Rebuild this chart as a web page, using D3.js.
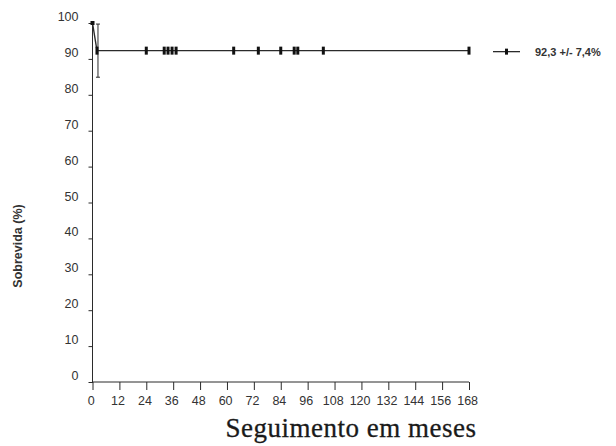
<!DOCTYPE html>
<html>
  <head>
    <meta charset="UTF-8" />
    <script src="https://cdn.jsdelivr.net/npm/d3@7"></script>
    <style>
      body { margin: 0; background: #fff; }
      svg { display: block; }
    </style>
  </head>
  <body>
    <svg width="616" height="446" id="mainsvg"></svg>
    <script>
        // data
        const xTicks = [0, 12, 24, 36, 48, 60, 72, 84, 96, 108, 120, 132, 144, 156, 168];
        const yTicks = [0, 10, 20, 30, 40, 50, 60, 70, 80, 90, 100];
        const curveTime = [0, 2, 168];
        const curveSurv = [100, 92.3, 92.3];
        const censorTime = [2, 24, 32, 33.7, 35.5, 37.3, 63, 74, 84, 90, 91.6, 103, 168];
        const errTime = [2];
        const errLow = [84.9];
        const errHigh = [99.7];
        const legendText = '92,3 +/- 7,4%';
        const xAxisLabel = 'Seguimento em meses';
        const yAxisLabel = 'Sobrevida (%)';

        const svg = d3.select('#mainsvg');
        const ink = '#2b2b2b';

        const xScale = d3.scaleLinear().domain([0, 168]).range([92.5, 469]);
        const yScale = d3.scaleLinear().domain([0, 100]).range([382, 23]);

        // y axis
        const yAxis = d3.axisLeft(yScale).tickValues(yTicks).tickSize(4).tickPadding(10);
        const yg = svg.append('g').attr('transform', `translate(${xScale(0)},0)`).call(yAxis);
        yg.select('.domain').attr('stroke', ink).attr('d', `M0,${yScale(100) - 2}V${yScale(0) + 1}`);
        yg.selectAll('.tick line').attr('stroke', ink);
        yg.selectAll('.tick text')
          .attr('fill', '#333')
          .attr('font-family', 'Liberation Sans, Arial, sans-serif')
          .attr('font-size', 12.5)
          .attr('dy', '-0.2em');

        // x axis
        const xAxis = d3.axisBottom(xScale).tickValues(xTicks).tickSize(8).tickPadding(6);
        const xg = svg.append('g').attr('transform', `translate(0,${yScale(0)})`).call(xAxis);
        xg.select('.domain').attr('stroke', ink).attr('d', `M${xScale(0)},0H${xScale(168)}`);
        xg.selectAll('.tick line').attr('stroke', ink);
        xg.selectAll('.tick text')
          .attr('fill', '#333')
          .attr('font-family', 'Liberation Sans, Arial, sans-serif')
          .attr('font-size', 12.5)
          .attr('dx', '-0.15em');

        // axis titles
        svg.append('text')
          .attr('x', 351).attr('y', 437)
          .attr('text-anchor', 'middle')
          .attr('font-family', 'Liberation Serif, Times New Roman, serif')
          .attr('font-size', 27)
          .attr('letter-spacing', 0.5)
          .attr('fill', '#1a1a1a')
          .attr('stroke', '#1a1a1a')
          .attr('stroke-width', 0.3)
          .text(xAxisLabel);

        svg.append('text')
          .attr('transform', 'translate(22,246) rotate(-90)')
          .attr('text-anchor', 'middle')
          .attr('font-family', 'Liberation Sans, Arial, sans-serif')
          .attr('font-weight', 'bold')
          .attr('font-size', 12.5)
          .attr('fill', '#333')
          .text(yAxisLabel);

        // survival curve
        const line = d3.line().x(d => xScale(d[0])).y(d => yScale(d[1]));
        const pts = curveTime.map((t, i) => [t, curveSurv[i]]);
        svg.append('path')
          .attr('d', line(pts))
          .attr('fill', 'none')
          .attr('stroke', ink)
          .attr('stroke-width', 1.4);

        // starting point
        svg.append('rect')
          .attr('x', xScale(0) - 2).attr('y', yScale(100) - 2)
          .attr('width', 4).attr('height', 4)
          .attr('fill', '#111');

        // error bar
        errTime.forEach((t, i) => {
          const x = xScale(t) + 1;
          const g = svg.append('g').attr('stroke', ink).attr('stroke-width', 1);
          g.append('line').attr('x1', x).attr('x2', x).attr('y1', yScale(errHigh[i])).attr('y2', yScale(errLow[i]));
          g.append('line').attr('x1', x - 2).attr('x2', x + 2).attr('y1', yScale(errHigh[i])).attr('y2', yScale(errHigh[i]));
          g.append('line').attr('x1', x - 2).attr('x2', x + 2).attr('y1', yScale(errLow[i])).attr('y2', yScale(errLow[i]));
        });

        // censor marks
        svg.selectAll('.censor')
          .data(censorTime)
          .enter().append('rect')
          .attr('class', 'censor')
          .attr('x', d => xScale(d) - 1.5)
          .attr('y', yScale(92.3) - 4)
          .attr('width', 3)
          .attr('height', 8)
          .attr('fill', '#111');

        // legend
        const lg = svg.append('g').attr('transform', `translate(493,${yScale(92.3) + 1})`);
        lg.append('line').attr('x1', 0).attr('x2', 27).attr('y1', 0).attr('y2', 0)
          .attr('stroke', ink).attr('stroke-width', 1.3);
        lg.append('rect').attr('x', 12).attr('y', -3).attr('width', 3).attr('height', 6).attr('fill', '#111');
        lg.append('text')
          .attr('x', 42).attr('y', 4)
          .attr('font-family', 'Liberation Sans, Arial, sans-serif')
          .attr('font-weight', 'bold')
          .attr('font-size', 11)
          .attr('fill', '#333')
          .text(legendText);
    </script>
  </body>
</html>
